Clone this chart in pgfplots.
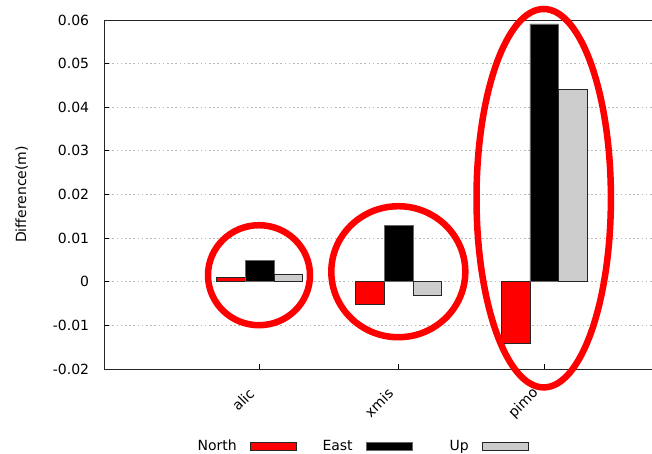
\documentclass[border=0pt]{standalone}
\usepackage{fontspec}
\setmainfont{DejaVu Sans}
\usepackage{pgfplots}
\pgfplotsset{compat=1.18}
\definecolor{upgray}{RGB}{204,204,204}
\pgfplotsset{
  boxlegend/.style={legend image code/.code={
    \path[draw=none, fill=none] (0pt,0pt) -- (72pt,0pt);
    \draw[##1, line width=0.8pt] (12pt,-4pt) rectangle (58pt,4pt);}},
}
\begin{document}
\fontsize{14}{16}\selectfont
\begin{tikzpicture}[x=1pt,y=1pt]
\path[use as bounding box] (0,0) rectangle (652,453);
\begin{axis}[
  at={(104pt,84pt)}, anchor=south west,
  scale only axis, width=556pt, height=349pt,
  xmin=0, xmax=556, ymin=-0.02, ymax=0.06,
  ybar=0pt, bar width=28.6,
  xtick={155.7,294.7,440.2}, xticklabels={alic,xmis,pimo},
  ytick={-0.02,-0.01,0,0.01,0.02,0.03,0.04,0.05,0.06},
  yticklabels={-0.02,-0.01,0,0.01,0.02,0.03,0.04,0.05,0.06},
  scaled y ticks=false,
  tick pos=left, tick align=inside, major tick length=5pt,
  tick style={black, line width=0.8pt},
  ymajorgrids, grid style={gray!55, line width=0.9pt, dash pattern=on 1.5pt off 2.7pt},
  axis line style={black!85, line width=0.9pt},
  yticklabel style={xshift=-10pt},
  xticklabel style={xshift=-8pt, yshift=-22pt, rotate=45, anchor=east, inner sep=0pt},
  ylabel={Difference(m)},
  ylabel style={at={(axis description cs:-0.148,0.5)}, anchor=center},
  clip=false,
  legend plot pos=right,
  legend columns=3,
  legend style={draw=none, fill=none, at={(axis description cs:0.4761,-0.2206)}, anchor=center,
    nodes={text width=40pt, align=right, inner sep=2pt}},
]
\addplot[fill=red, draw=black!85, line width=0.8pt, bar shift=-28.6, boxlegend]
  coordinates {(155.7,0.0009) (294.7,-0.0052) (440.2,-0.0142)};
\addlegendentry{North}
\addplot[fill=black, draw=black!60, line width=0.8pt, bar shift=0, boxlegend]
  coordinates {(155.7,0.0048) (294.7,0.013) (440.2,0.0591)};
\addlegendentry{East}
\addplot[fill=upgray, draw=black!85, line width=0.8pt, bar shift=28.6, boxlegend]
  coordinates {(155.7,0.0018) (294.7,-0.0031) (440.2,0.044)};
\addlegendentry{Up}
% highlight rings around each station group
\draw[red, line width=6.5pt] (axis cs:155,0.0015) ellipse [x radius=51pt, y radius=50pt];
\draw[red, line width=6.5pt] (axis cs:294.3,0.0023) ellipse [x radius=67pt, y radius=65.5pt];
\draw[red, line width=6.5pt] (axis cs:439.7,0.01915) ellipse [x radius=67.2pt, y radius=189.2pt];
\end{axis}
\end{tikzpicture}
\end{document}
